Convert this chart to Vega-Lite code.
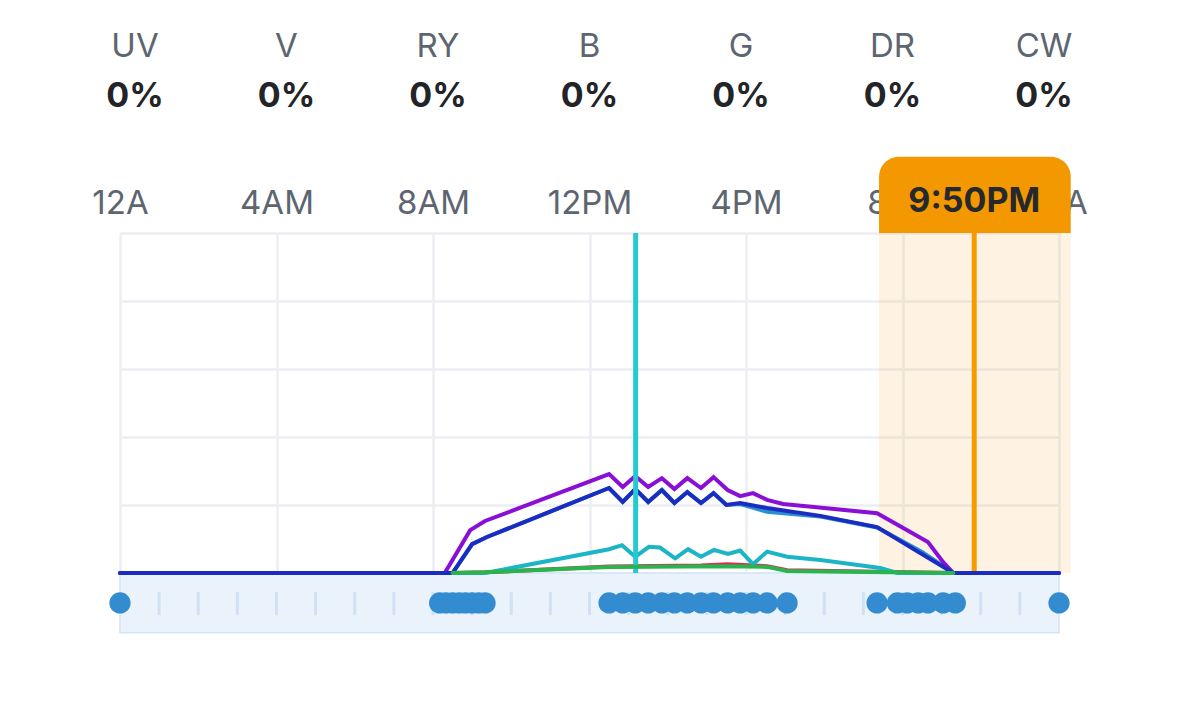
{
  "$schema": "https://vega.github.io/schema/vega-lite/v6.json",
  "width": 939,
  "height": 340,
  "autosize": {"type": "none"},
  "padding": {"left": 120, "top": 233, "right": 120, "bottom": 147},
  "background": "white",
  "config": {"view": {"stroke": null}, "font": "Inter", "text": {"font": "Inter"}},
  "datasets": {
    "channels": [
      {"ch": "UV", "pct": "0%"},
      {"ch": "V", "pct": "0%"},
      {"ch": "RY", "pct": "0%"},
      {"ch": "B", "pct": "0%"},
      {"ch": "G", "pct": "0%"},
      {"ch": "DR", "pct": "0%"},
      {"ch": "CW", "pct": "0%"}
    ],
    "lines": [
      {"s": "DR", "h": 8.5, "v": 0}, {"s": "DR", "h": 9.33, "v": 0.2}, {"s": "DR", "h": 12.5, "v": 1.9}, {"s": "DR", "h": 14.85, "v": 2.2}, {"s": "DR", "h": 15.53, "v": 2.6}, {"s": "DR", "h": 16.54, "v": 2.0}, {"s": "DR", "h": 17.05, "v": 0.8}, {"s": "DR", "h": 21.3, "v": 0},
      {"s": "CW", "h": 8.5, "v": 0}, {"s": "CW", "h": 9.33, "v": 0}, {"s": "CW", "h": 12.5, "v": 7.0}, {"s": "CW", "h": 12.83, "v": 8.2}, {"s": "CW", "h": 13.17, "v": 4.8}, {"s": "CW", "h": 13.52, "v": 7.7}, {"s": "CW", "h": 13.8, "v": 7.5}, {"s": "CW", "h": 14.19, "v": 4.3}, {"s": "CW", "h": 14.52, "v": 7.0}, {"s": "CW", "h": 14.85, "v": 4.8}, {"s": "CW", "h": 15.18, "v": 6.8}, {"s": "CW", "h": 15.54, "v": 5.6}, {"s": "CW", "h": 15.85, "v": 6.6}, {"s": "CW", "h": 16.18, "v": 2.6}, {"s": "CW", "h": 16.54, "v": 6.3}, {"s": "CW", "h": 17.05, "v": 4.8}, {"s": "CW", "h": 17.9, "v": 3.8}, {"s": "CW", "h": 19.43, "v": 1.5}, {"s": "CW", "h": 19.87, "v": 0}, {"s": "CW", "h": 21.3, "v": 0},
      {"s": "RY", "h": 8.5, "v": 0}, {"s": "RY", "h": 9.0, "v": 8.5}, {"s": "RY", "h": 9.38, "v": 10.6}, {"s": "RY", "h": 12.5, "v": 25}, {"s": "RY", "h": 12.85, "v": 20.9}, {"s": "RY", "h": 13.17, "v": 24.7}, {"s": "RY", "h": 13.5, "v": 20.9}, {"s": "RY", "h": 13.85, "v": 24.4}, {"s": "RY", "h": 14.17, "v": 20.6}, {"s": "RY", "h": 14.5, "v": 23.8}, {"s": "RY", "h": 14.85, "v": 20.6}, {"s": "RY", "h": 15.17, "v": 23.5}, {"s": "RY", "h": 15.5, "v": 20}, {"s": "RY", "h": 15.85, "v": 20.3}, {"s": "RY", "h": 16.54, "v": 18.0}, {"s": "RY", "h": 17.9, "v": 16.6}, {"s": "RY", "h": 19.35, "v": 13.4}, {"s": "RY", "h": 20.5, "v": 6.2}, {"s": "RY", "h": 21.3, "v": 0},
      {"s": "V", "h": 0, "v": 0}, {"s": "V", "h": 8.3, "v": 0}, {"s": "V", "h": 8.95, "v": 12.6}, {"s": "V", "h": 9.33, "v": 15.3}, {"s": "V", "h": 12.5, "v": 29.1}, {"s": "V", "h": 12.85, "v": 25.3}, {"s": "V", "h": 13.17, "v": 28.5}, {"s": "V", "h": 13.5, "v": 25.3}, {"s": "V", "h": 13.85, "v": 27.9}, {"s": "V", "h": 14.17, "v": 24.7}, {"s": "V", "h": 14.5, "v": 27.9}, {"s": "V", "h": 14.85, "v": 25}, {"s": "V", "h": 15.17, "v": 28.2}, {"s": "V", "h": 15.53, "v": 24.4}, {"s": "V", "h": 15.85, "v": 22.6}, {"s": "V", "h": 16.18, "v": 23.5}, {"s": "V", "h": 16.54, "v": 21.5}, {"s": "V", "h": 16.95, "v": 20.3}, {"s": "V", "h": 19.35, "v": 17.6}, {"s": "V", "h": 20.12, "v": 12.6}, {"s": "V", "h": 20.65, "v": 9.1}, {"s": "V", "h": 21.04, "v": 3.2}, {"s": "V", "h": 21.3, "v": 0}, {"s": "V", "h": 24, "v": 0},
      {"s": "B", "h": 0, "v": 0}, {"s": "B", "h": 8.5, "v": 0}, {"s": "B", "h": 9.0, "v": 8.5}, {"s": "B", "h": 9.38, "v": 10.6}, {"s": "B", "h": 12.5, "v": 25}, {"s": "B", "h": 12.85, "v": 20.9}, {"s": "B", "h": 13.17, "v": 24.7}, {"s": "B", "h": 13.5, "v": 20.9}, {"s": "B", "h": 13.85, "v": 24.4}, {"s": "B", "h": 14.17, "v": 20.6}, {"s": "B", "h": 14.5, "v": 23.8}, {"s": "B", "h": 14.85, "v": 20.6}, {"s": "B", "h": 15.17, "v": 23.5}, {"s": "B", "h": 15.5, "v": 20}, {"s": "B", "h": 15.85, "v": 20.6}, {"s": "B", "h": 16.54, "v": 19.1}, {"s": "B", "h": 17.9, "v": 16.8}, {"s": "B", "h": 19.35, "v": 13.5}, {"s": "B", "h": 21.3, "v": 0}, {"s": "B", "h": 24, "v": 0},
      {"s": "G", "h": 8.5, "v": 0}, {"s": "G", "h": 9.33, "v": 0.2}, {"s": "G", "h": 12.5, "v": 1.8}, {"s": "G", "h": 15.5, "v": 2.0}, {"s": "G", "h": 16.54, "v": 1.8}, {"s": "G", "h": 17.05, "v": 0.6}, {"s": "G", "h": 21.3, "v": 0}
    ],
    "points": [
      {"h": 0},
      {"h": 8.17}, {"h": 8.33}, {"h": 8.5}, {"h": 8.67}, {"h": 8.83}, {"h": 9.0}, {"h": 9.17}, {"h": 9.33},
      {"h": 12.5}, {"h": 12.85}, {"h": 13.17}, {"h": 13.5}, {"h": 13.85}, {"h": 14.17}, {"h": 14.5}, {"h": 14.85}, {"h": 15.17}, {"h": 15.53}, {"h": 15.85}, {"h": 16.18}, {"h": 16.54}, {"h": 17.05},
      {"h": 19.35}, {"h": 19.87}, {"h": 20.12}, {"h": 20.4}, {"h": 20.65}, {"h": 21.04}, {"h": 21.35},
      {"h": 24}
    ],
    "hours": [
      {"hr": 1}, {"hr": 2}, {"hr": 3}, {"hr": 4}, {"hr": 5}, {"hr": 6}, {"hr": 7}, {"hr": 8}, {"hr": 9}, {"hr": 10}, {"hr": 11}, {"hr": 12},
      {"hr": 13}, {"hr": 14}, {"hr": 15}, {"hr": 16}, {"hr": 17}, {"hr": 18}, {"hr": 19}, {"hr": 20}, {"hr": 21}, {"hr": 22}, {"hr": 23}
    ],
    "timeline": [{"start": 0, "end": 24}],
    "cursor": [{"time": 21.833, "label": "9:50PM", "from": 19.4, "to": 24.3}],
    "now": [{"time": 13.18}]
  },
  "layer": [
    {
      "data": {"name": "channels"},
      "encoding": {
        "x": {"field": "ch", "type": "nominal", "sort": null, "scale": {"type": "point", "domain": ["UV", "V", "RY", "B", "G", "DR", "CW"], "padding": 0.099}, "axis": null}
      },
      "layer": [
        {
          "mark": {"type": "text", "fontSize": 33, "color": "#5d6670", "baseline": "alphabetic", "align": "center"},
          "encoding": {
            "text": {"field": "ch"},
            "y": {"datum": 151.8, "type": "quantitative", "scale": {"domain": [0, 100]}}
          }
        },
        {
          "mark": {"type": "text", "fontSize": 34, "fontWeight": "bold", "color": "#222428", "baseline": "alphabetic", "align": "center"},
          "encoding": {
            "text": {"field": "pct"},
            "y": {"datum": 137.1, "type": "quantitative", "scale": {"domain": [0, 100]}}
          }
        }
      ]
    },
    {
      "layer": [
        {
          "data": {"name": "cursor"},
          "mark": {"type": "rect", "color": "#f5a623", "opacity": 0.13},
          "encoding": {
            "x": {"field": "from", "type": "quantitative", "scale": {"domain": [0, 24], "nice": false, "zero": false},
              "axis": {"orient": "top", "values": [0, 4, 8, 12, 16, 20, 24], "labelExpr": "datum.value == 0 || datum.value == 24 ? '12A' : datum.value < 12 ? datum.value + 'AM' : datum.value == 12 ? '12PM' : (datum.value - 12) + 'PM'", "grid": true, "gridColor": "#eceef3", "gridWidth": 2.5, "domain": false, "ticks": false, "labelFontSize": 33, "labelColor": "#5d6670", "labelFont": "Inter", "labelPadding": 20, "labelBaseline": "alphabetic", "labelFlush": false, "labelOverlap": false, "labelBound": false, "title": null}},
            "x2": {"field": "to"},
            "y": {"datum": 0, "type": "quantitative", "scale": {"domain": [0, 100], "nice": false},
              "axis": {"values": [0, 20, 40, 60, 80, 100], "grid": true, "gridColor": "#eceef3", "gridWidth": 2.5, "labels": false, "ticks": false, "domain": false, "title": null}},
            "y2": {"datum": 100}
          }
        },
        {
          "data": {"name": "timeline"},
          "mark": {"type": "rect", "fill": "#eaf2fc", "stroke": "#d3e3f4", "strokeWidth": 1.5},
          "encoding": {
            "x": {"field": "start", "type": "quantitative"},
            "x2": {"field": "end"},
            "y": {"datum": 0, "type": "quantitative"},
            "y2": {"datum": -17.6}
          }
        },
        {
          "data": {"name": "hours"},
          "mark": {"type": "rule", "color": "#cfe1f3", "strokeWidth": 3},
          "encoding": {
            "x": {"field": "hr", "type": "quantitative"},
            "y": {"datum": -5.6, "type": "quantitative"},
            "y2": {"datum": -12.4}
          }
        },
        {
          "data": {"name": "cursor"},
          "mark": {"type": "rule", "color": "#f59b00", "strokeWidth": 5},
          "encoding": {
            "x": {"field": "time", "type": "quantitative"},
            "y": {"datum": 0, "type": "quantitative"},
            "y2": {"datum": 100}
          }
        },
        {
          "data": {"name": "lines"},
          "transform": [{"filter": "datum.s == 'DR'"}],
          "mark": {"type": "line", "strokeWidth": 4, "strokeCap": "round"},
          "encoding": {
            "x": {"field": "h", "type": "quantitative"},
            "y": {"field": "v", "type": "quantitative"},
            "color": {"field": "s", "type": "nominal", "scale": {"domain": ["DR", "CW", "RY", "V", "B", "G"], "range": ["#e3265a", "#1cb5c5", "#2a8fd2", "#8a0fd6", "#1b2dc1", "#28b54d"]}, "legend": null}
          }
        },
        {
          "data": {"name": "lines"},
          "transform": [{"filter": "datum.s == 'CW'"}],
          "mark": {"type": "line", "strokeWidth": 4, "strokeCap": "round"},
          "encoding": {
            "x": {"field": "h", "type": "quantitative"},
            "y": {"field": "v", "type": "quantitative"},
            "color": {"field": "s", "type": "nominal", "legend": null}
          }
        },
        {
          "data": {"name": "lines"},
          "transform": [{"filter": "datum.s == 'RY'"}],
          "mark": {"type": "line", "strokeWidth": 4, "strokeCap": "round"},
          "encoding": {
            "x": {"field": "h", "type": "quantitative"},
            "y": {"field": "v", "type": "quantitative"},
            "color": {"field": "s", "type": "nominal", "legend": null}
          }
        },
        {
          "data": {"name": "lines"},
          "transform": [{"filter": "datum.s == 'V'"}],
          "mark": {"type": "line", "strokeWidth": 4, "strokeCap": "round"},
          "encoding": {
            "x": {"field": "h", "type": "quantitative"},
            "y": {"field": "v", "type": "quantitative"},
            "color": {"field": "s", "type": "nominal", "legend": null}
          }
        },
        {
          "data": {"name": "lines"},
          "transform": [{"filter": "datum.s == 'B'"}],
          "mark": {"type": "line", "strokeWidth": 4, "strokeCap": "round"},
          "encoding": {
            "x": {"field": "h", "type": "quantitative"},
            "y": {"field": "v", "type": "quantitative"},
            "color": {"field": "s", "type": "nominal", "legend": null}
          }
        },
        {
          "data": {"name": "now"},
          "mark": {"type": "rule", "color": "#26c9cf", "strokeWidth": 5},
          "encoding": {
            "x": {"field": "time", "type": "quantitative"},
            "y": {"datum": 0, "type": "quantitative"},
            "y2": {"datum": 100}
          }
        },
        {
          "data": {"name": "lines"},
          "transform": [{"filter": "datum.s == 'G'"}],
          "mark": {"type": "line", "strokeWidth": 4, "strokeCap": "round"},
          "encoding": {
            "x": {"field": "h", "type": "quantitative"},
            "y": {"field": "v", "type": "quantitative"},
            "color": {"field": "s", "type": "nominal", "legend": null}
          }
        },
        {
          "data": {"name": "points"},
          "mark": {"type": "circle", "size": 452, "color": "#348cd0", "opacity": 1},
          "encoding": {
            "x": {"field": "h", "type": "quantitative"},
            "y": {"datum": -8.8, "type": "quantitative"}
          }
        },
        {
          "data": {"name": "cursor"},
          "mark": {"type": "rect", "color": "#f39800", "cornerRadiusTopLeft": 20, "cornerRadiusTopRight": 20},
          "encoding": {
            "x": {"field": "from", "type": "quantitative"},
            "x2": {"field": "to"},
            "y": {"datum": 100, "type": "quantitative"},
            "y2": {"datum": 122.4}
          }
        },
        {
          "data": {"name": "cursor"},
          "mark": {"type": "text", "fontSize": 34, "fontWeight": "bold", "color": "#25282c", "baseline": "alphabetic", "align": "center"},
          "encoding": {
            "x": {"field": "time", "type": "quantitative"},
            "y": {"datum": 106.2, "type": "quantitative"},
            "text": {"field": "label"}
          }
        }
      ]
    }
  ],
  "resolve": {"scale": {"x": "independent"}}
}
